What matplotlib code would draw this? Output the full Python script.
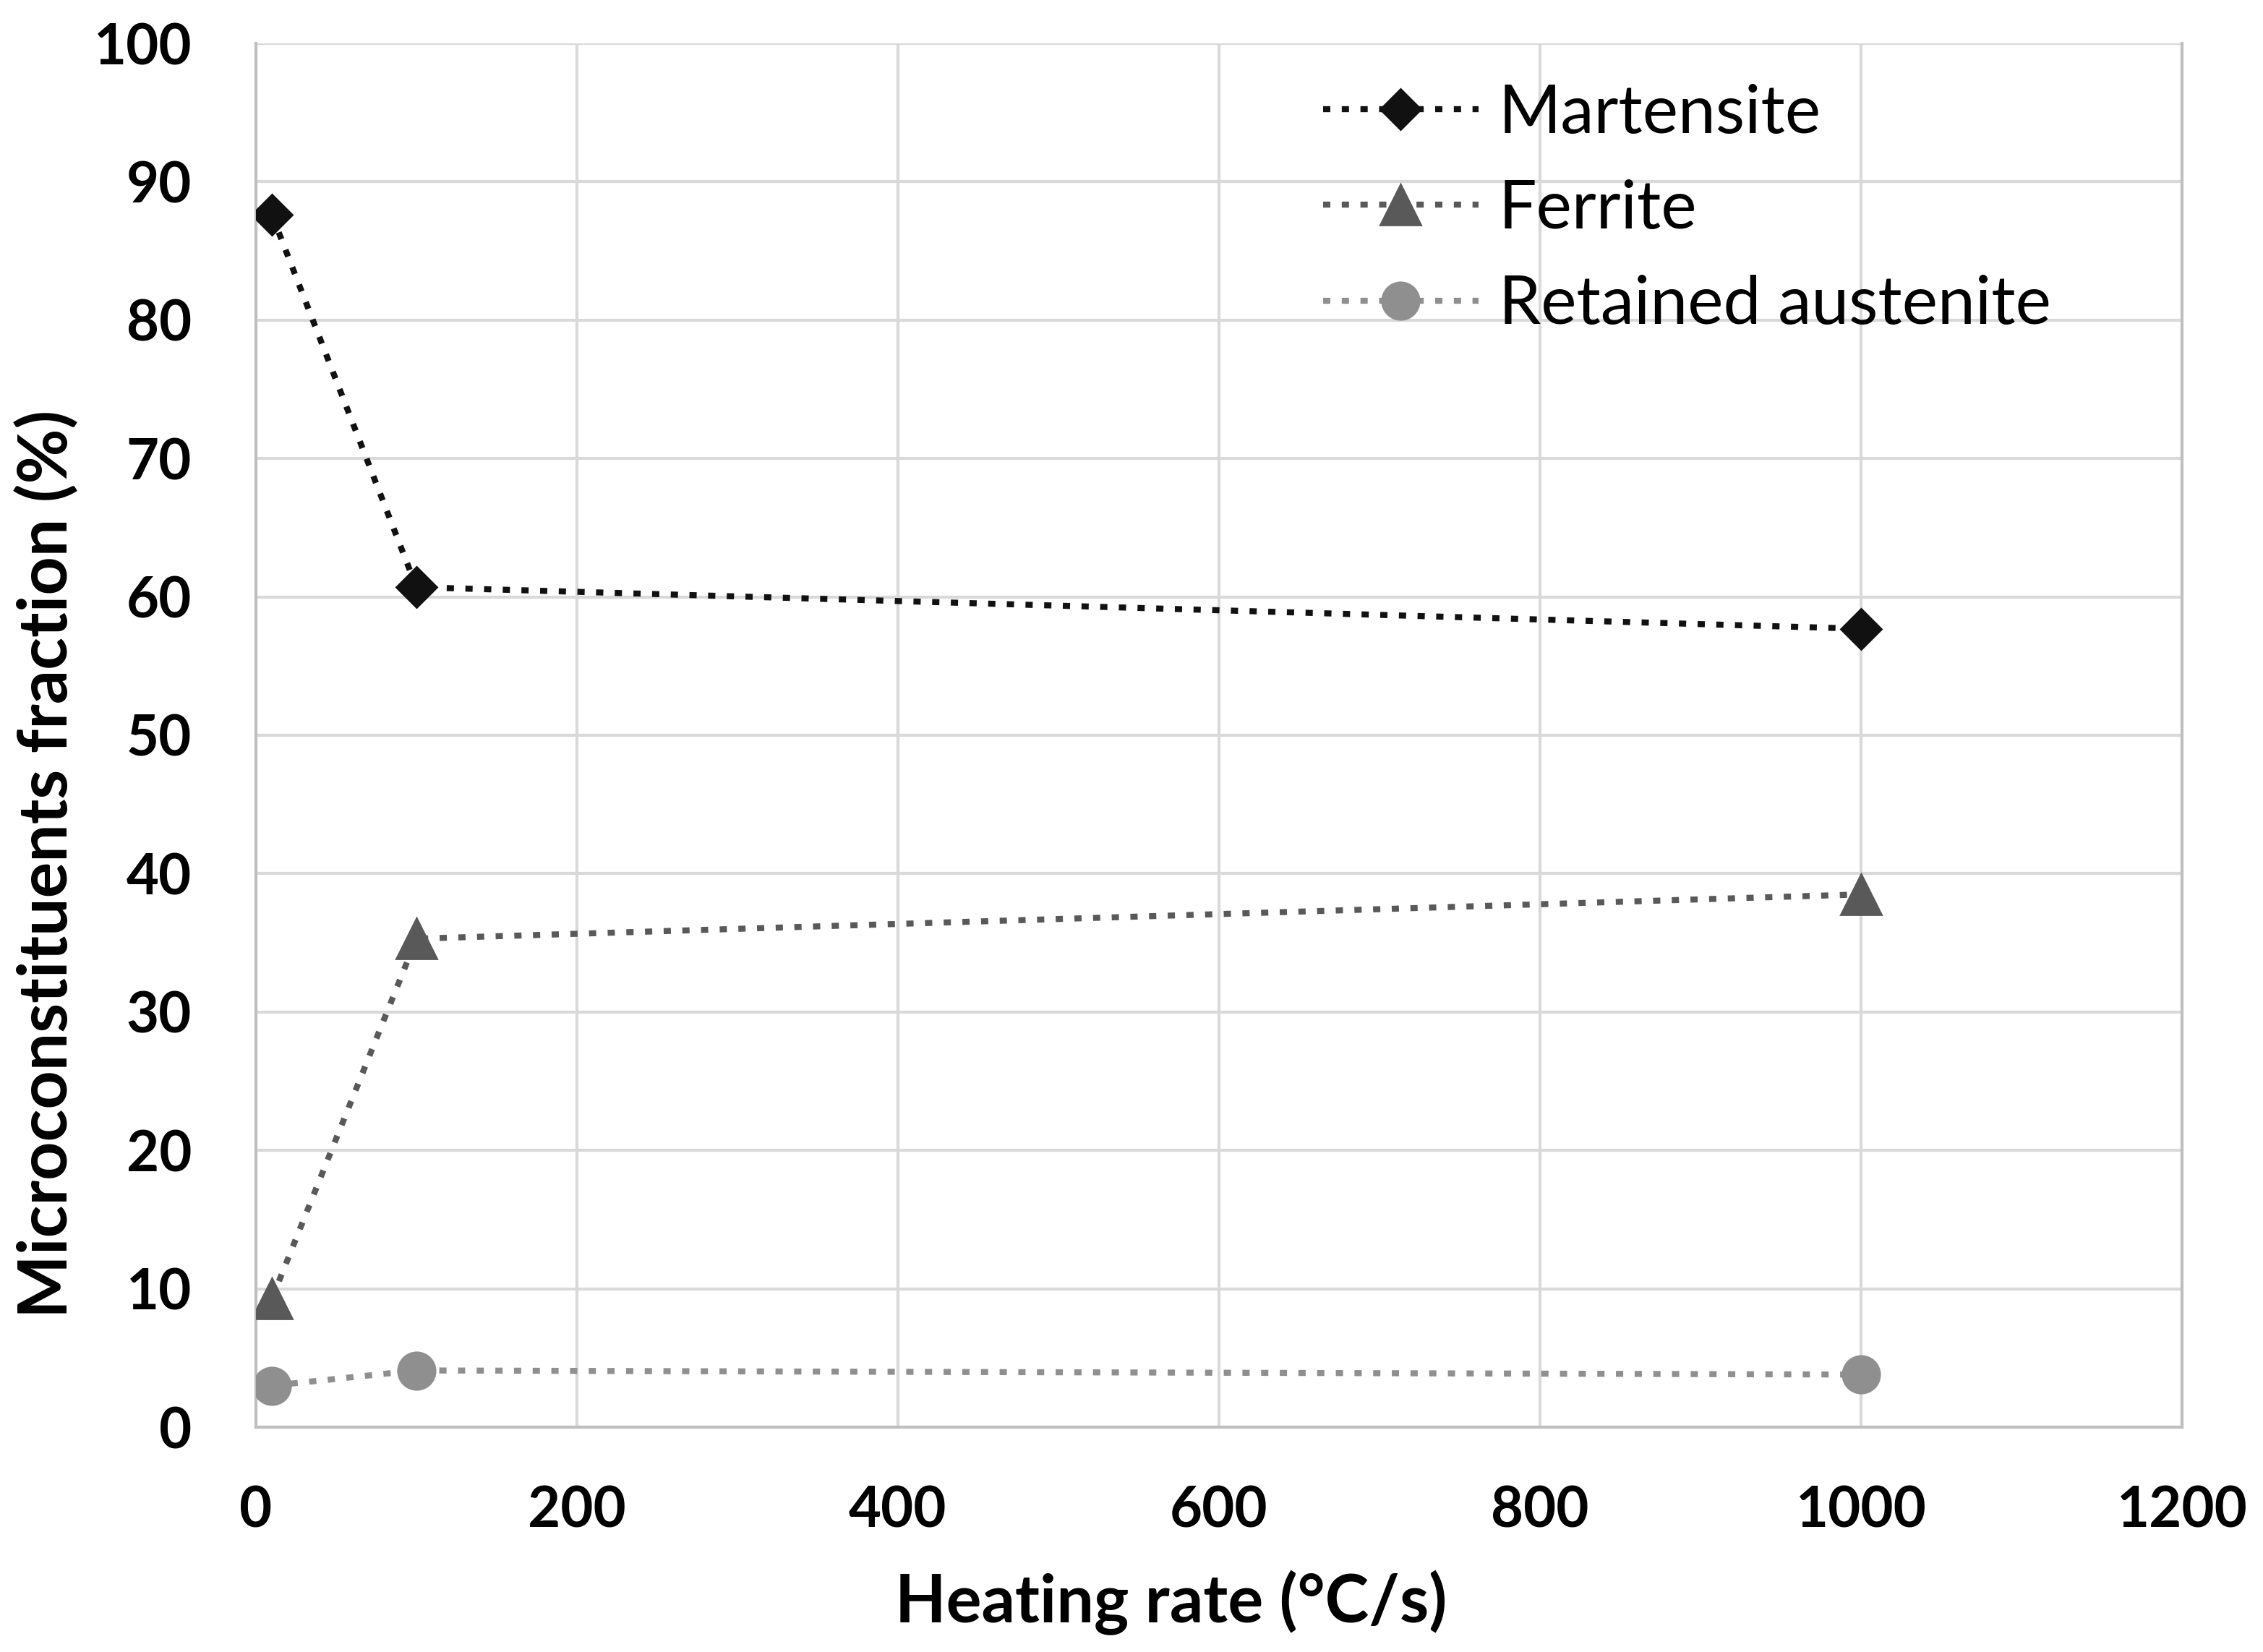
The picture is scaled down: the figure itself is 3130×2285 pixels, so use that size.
import matplotlib
matplotlib.use("Agg")
import matplotlib.pyplot as plt

heating_rate = [10, 100, 1000]
martensite = [87.6, 60.7, 57.7]
ferrite = [9.3, 35.3, 38.5]
retained_austenite = [3.0, 4.1, 3.8]

x_ticks = [0, 200, 400, 600, 800, 1000, 1200]
y_ticks = [0, 10, 20, 30, 40, 50, 60, 70, 80, 90, 100]

plt.rcParams['font.family'] = ['Lato', 'DejaVu Sans']

fig = plt.figure(figsize=(15.65, 11.425), dpi=200)
ax = fig.add_axes([354/3130, 1-1974/2285, (3018-354)/3130, (1974-60)/2285])

dash = (1.2, 1.9)
ax.plot(heating_rate, martensite, linestyle=(0, dash), linewidth=3, color='#111111',
        marker='D', markersize=14.5, label='Martensite', zorder=3)
ax.plot(heating_rate, ferrite, linestyle=(0, dash), linewidth=3, color='#595959',
        marker='^', markersize=20.5, label='Ferrite', zorder=3)
ax.plot(heating_rate, retained_austenite, linestyle=(0, dash), linewidth=3, color='#8f8f8f',
        marker='o', markersize=18.5, label='Retained austenite', zorder=3)

ax.set_xlim(0, 1200)
ax.set_ylim(0, 100)
ax.set_xticks(x_ticks)
ax.set_yticks(y_ticks)
ax.grid(True, color='#d9d9d9', linewidth=1.5)
ax.set_axisbelow(True)
for s in ['left', 'bottom', 'right', 'top']:
    ax.spines[s].set_color('#bfbfbf')
    ax.spines[s].set_linewidth(1.5)
ax.spines['top'].set_visible(False)
ax.tick_params(axis='y', length=0, labelsize=28, pad=32)
ax.tick_params(axis='x', length=0, labelsize=28, pad=29)
for lbl in ax.get_xticklabels() + ax.get_yticklabels():
    lbl.set_fontweight('bold')

ax.set_xlabel('Heating rate (°C/s)', fontsize=33, fontweight='bold')
ax.set_ylabel('Microconstituents fraction (%)', fontsize=33.5, fontweight='bold')
ax.xaxis.set_label_coords(0.475, -0.1034)
ax.yaxis.set_label_coords(-0.092, 0.407)

leg = ax.legend(loc='upper left', bbox_to_anchor=(0.554, 0.971), frameon=False,
                fontsize=33.5, handlelength=2.31, handletextpad=0.3, labelspacing=0.52,
                borderaxespad=0, borderpad=0)

fig.savefig('out.png', dpi=200)
